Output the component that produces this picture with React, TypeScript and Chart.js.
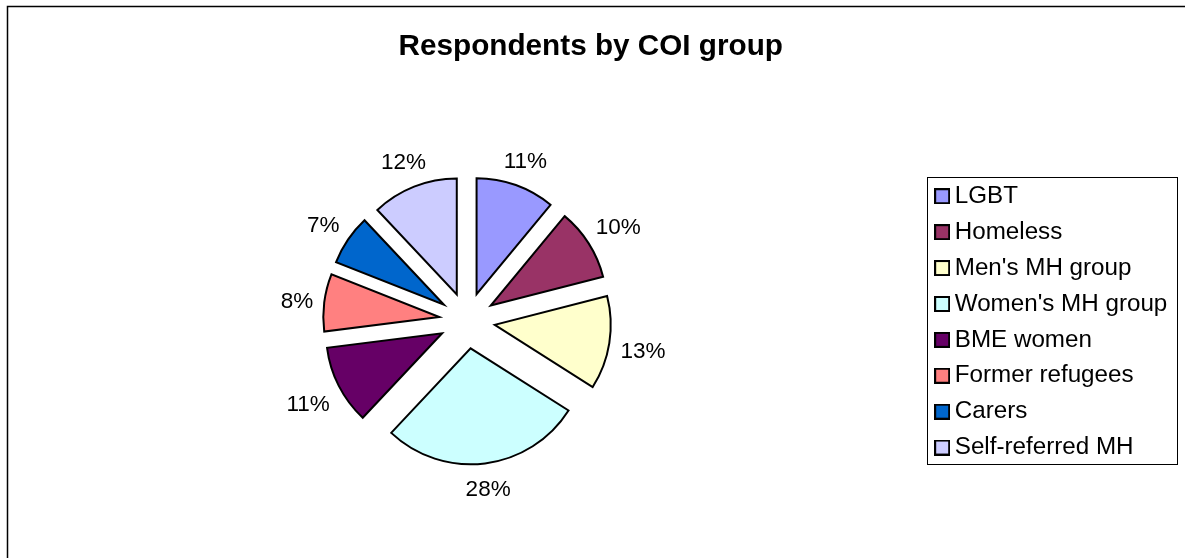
import React, { useEffect, useRef } from "react";
import { Chart, registerables, ArcElement } from "chart.js";

Chart.register(...registerables);

const chartTitle = "Respondents by COI group";
const categories = [
  "LGBT",
  "Homeless",
  "Men's MH group",
  "Women's MH group",
  "BME women",
  "Former refugees",
  "Carers",
  "Self-referred MH",
];
const shares = [11, 10, 13, 28, 11, 8, 7, 12];
const sliceColors = [
  "#9999FF",
  "#993366",
  "#FFFFCC",
  "#CCFFFF",
  "#660066",
  "#FF8080",
  "#0066CC",
  "#CCCCFF",
];

const FONT = '"Liberation Sans", Arial, Helvetica, sans-serif';
const EXPLODE = 28;
const RADIUS = 116;
const LABEL_RING = 10; // gap between slice rim and label box
const LABEL_SIZE = 22.5;
const LABEL_DY = 3;

// Excel-style explode: move each slice outward by its full offset, without growing it
const arcProto: any = ArcElement.prototype;
if (!arcProto.__excelExplode) {
  const origDraw = arcProto.draw;
  arcProto.draw = function (ctx: CanvasRenderingContext2D) {
    const off = (this.options && this.options.offset) || 0;
    if (!off) return origDraw.call(this, ctx);
    const mid = (this.startAngle + this.endAngle) / 2;
    ctx.save();
    ctx.translate(Math.cos(mid) * off, Math.sin(mid) * off);
    const proxy = Object.create(this);
    proxy.options = Object.assign({}, this.options, { offset: 0 });
    origDraw.call(proxy, ctx);
    ctx.restore();
  };
  arcProto.__excelExplode = true;
}

function makeSwatch(color: string): HTMLCanvasElement {
  const c = document.createElement("canvas");
  c.width = 16;
  c.height = 16;
  const g = c.getContext("2d")!;
  g.fillStyle = "#000";
  g.fillRect(0, 0, 16, 16);
  g.fillStyle = color;
  g.fillRect(2, 2, 12, 12);
  return c;
}

const pctLabels = {
  id: "pctLabels",
  afterDatasetsDraw(chart: any) {
    const meta = chart.getDatasetMeta(0);
    const data = chart.data.datasets[0].data as number[];
    const total = data.reduce((a, b) => a + b, 0);
    const ctx = chart.ctx as CanvasRenderingContext2D;
    ctx.save();
    ctx.font = `${LABEL_SIZE}px ${FONT}`;
    ctx.fillStyle = "#000";
    ctx.textAlign = "center";
    ctx.textBaseline = "middle";
    meta.data.forEach((arc: any, i: number) => {
      const { x, y, startAngle, endAngle, outerRadius } = arc.getProps(
        ["x", "y", "startAngle", "endAngle", "outerRadius"],
        true
      );
      const text = Math.round((data[i] / total) * 100) + "%";
      const w = ctx.measureText(text).width;
      const h = LABEL_SIZE;
      const mid = (startAngle + endAngle) / 2;
      const cx = Math.cos(mid);
      const sy = Math.sin(mid);
      const dist =
        outerRadius +
        (arc.options.offset || 0) +
        LABEL_RING +
        (w / 2) * Math.abs(cx) +
        (h / 2) * Math.abs(sy);
      ctx.fillText(text, x + cx * dist, y + sy * dist + LABEL_DY);
    });
    ctx.restore();
  },
};

const frames = {
  id: "frames",
  afterDraw(chart: any) {
    const ctx = chart.ctx as CanvasRenderingContext2D;
    ctx.save();
    ctx.strokeStyle = "#000";
    ctx.lineWidth = 1.5;
    ctx.strokeRect(7.5, 6.5, 1400, 800);
    const lg = chart.legend;
    if (lg && lg.legendHitBoxes && lg.legendHitBoxes.length) {
      const hb = lg.legendHitBoxes;
      const maxW = Math.max(...hb.map((h: any) => h.width));
      const left = hb[0].left - 14.5;
      const top = hb[0].top - 7;
      const right = hb[0].left + maxW + 10;
      const last = hb[hb.length - 1];
      const bottom = last.top + last.height + 5;
      ctx.lineWidth = 1;
      ctx.strokeRect(
        Math.round(left) + 0.5,
        Math.round(top) + 0.5,
        Math.round(right - left),
        Math.round(bottom - top)
      );
    }
    ctx.restore();
  },
};

export default function App() {
  const ref = useRef<HTMLCanvasElement | null>(null);

  useEffect(() => {
    if (!ref.current) return;
    const swatches = sliceColors.map(makeSwatch);
    const chart = new Chart(ref.current, {
      type: "pie",
      data: {
        labels: categories,
        datasets: [
          {
            data: shares,
            backgroundColor: sliceColors,
            borderColor: "#000",
            borderWidth: 2,
            borderJoinStyle: "miter",
            offset: EXPLODE,
            radius: RADIUS,
          } as any,
        ],
      },
      options: {
        responsive: false,
        animation: false,
        devicePixelRatio: 1,
        events: [],
        layout: { padding: { left: 4.2, right: 7.7, top: 0, bottom: 0 } },
        plugins: {
          tooltip: { enabled: false },
          title: {
            display: true,
            text: chartTitle,
            color: "#000",
            font: { family: FONT, size: 29.7, weight: "bold", lineHeight: 1.2 },
            padding: { top: 29, bottom: 18.4 },
          },
          legend: {
            display: true,
            position: "right",
            title: {
              display: true,
              text: "",
              font: { family: FONT, size: 10, lineHeight: 1 },
              padding: { top: 75.8, bottom: 0 },
            },
            labels: {
              color: "#000",
              font: { family: FONT, size: 24.2 },
              padding: 11.7,
              usePointStyle: true,
              pointStyleWidth: 1,
              generateLabels: () =>
                categories.map((text, i) => ({
                  text,
                  fillStyle: sliceColors[i],
                  strokeStyle: "#000",
                  lineWidth: 0,
                  hidden: false,
                  index: i,
                  pointStyle: swatches[i],
                  fontColor: "#000",
                })),
            },
          },
        },
      } as any,
      plugins: [pctLabels, frames],
    });
    return () => chart.destroy();
  }, []);

  return (
    <div
      style={{
        position: "absolute",
        left: 0,
        top: 0,
        width: 1185,
        height: 558,
        overflow: "hidden",
        background: "#fff",
      }}
    >
      <canvas ref={ref} width={1185} height={558} style={{ display: "block" }} />
    </div>
  );
}
